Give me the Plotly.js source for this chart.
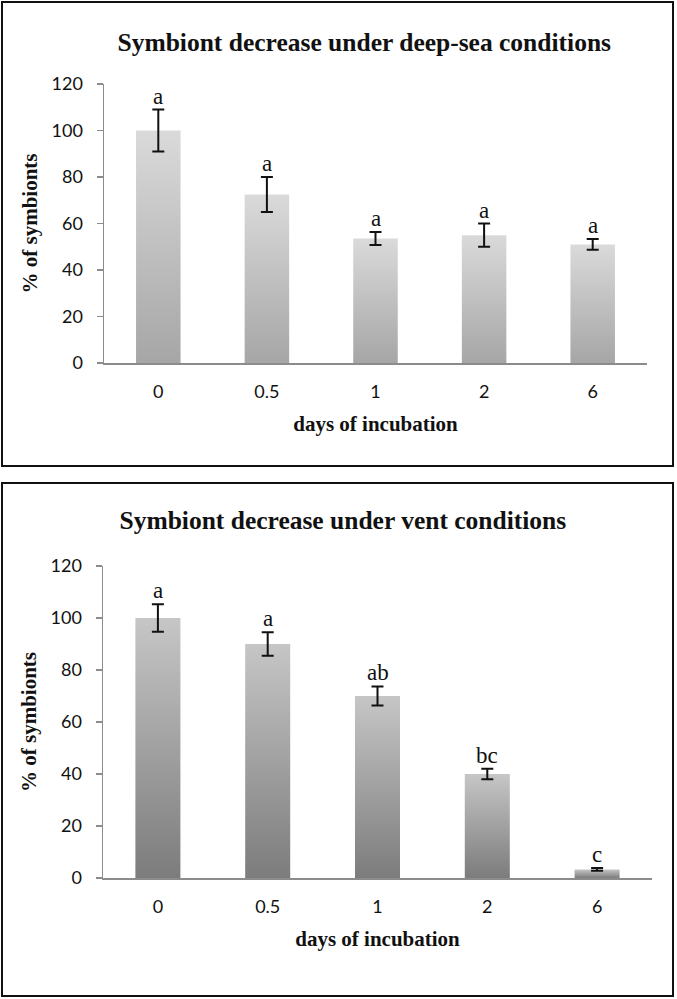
<!DOCTYPE html>
<html>
<head>
<meta charset="utf-8">
<script src="https://cdn.plot.ly/plotly-3.0.1.min.js"></script>
<style>
  html, body { margin: 0; padding: 0; background: #fff; }
  body { width: 677px; height: 999px; position: relative; overflow: hidden; }
  .panel { position: absolute; box-sizing: border-box; border: 2px solid #111; background: #fff; }
</style>
</head>
<body>
<div class="panel" style="left:1px;top:1px;width:673px;height:466px"><div id="c1"></div></div>
<div class="panel" style="left:1px;top:482px;width:673px;height:515px"><div id="c2"></div></div>
<script>
// ---- data ----
const categories = ['0', '0.5', '1', '2', '6'];
const deepSeaValues = [100, 72.5, 53.5, 55, 51];
const deepSeaErrors = [9, 7.5, 2.8, 5, 2.3];
const deepSeaLetters = ['a', 'a', 'a', 'a', 'a'];
const ventValues = [100, 90, 70, 40, 3.3];
const ventErrors = [5.3, 4.5, 3.7, 2, 0.5];
const ventLetters = ['a', 'a', 'ab', 'bc', 'c'];
const titleDeep = 'Symbiont decrease under deep-sea conditions';
const titleVent = 'Symbiont decrease under vent conditions';
const xTitle = 'days of incubation';
const yTitle = '% of symbionts';

const serif = 'Liberation Serif, Times New Roman, serif';
const sans = 'Lato, Carlito, sans-serif';

function makeChart(divId, values, errors, letters, title, W, H, margin, titleX, titleY, gradId, gTop, gBottom) {
  const trace = {
    type: 'bar',
    x: categories,
    y: values,
    width: 0.41,
    marker: { color: '#bdbdbd', line: { width: 0 } },
    error_y: { type: 'data', array: errors, visible: true, color: '#111', thickness: 2, width: 6 },
    hoverinfo: 'skip'
  };
  // category axis: annotation x given as the category index
  const annotations = categories.map((c, i) => ({
    x: i, y: values[i] + errors[i], xref: 'x', yref: 'y',
    text: letters[i], showarrow: false, yanchor: 'bottom', yshift: -1,
    font: { family: serif, size: 23, color: '#111' }
  }));
  const layout = {
    width: W, height: H,
    margin: margin,
    paper_bgcolor: '#fff', plot_bgcolor: '#fff',
    showlegend: false,
    title: {
      text: title, x: titleX, xanchor: 'center', xref: 'container',
      y: titleY, yanchor: 'middle', yref: 'container',
      font: { family: serif, size: 25.5, color: '#111', weight: 'bold' }
    },
    xaxis: {
      type: 'category',
      range: [-0.5, categories.length - 0.5],
      showgrid: false, zeroline: false,
      showline: true, linecolor: '#8c8c8c', linewidth: 1.5,
      ticks: '', ticklabelstandoff: 12,
      tickfont: { family: sans, size: 18, color: '#111' },
      title: { text: xTitle, standoff: 15, font: { family: serif, size: 21, color: '#111', weight: 'bold' } }
    },
    yaxis: {
      range: [0, 120], dtick: 20, tick0: 0,
      showgrid: false, zeroline: false,
      showline: true, linecolor: '#8c8c8c', linewidth: 1.5,
      ticks: 'outside', ticklen: 6, tickcolor: '#8c8c8c', tickwidth: 1.5,
      ticklabelstandoff: 10,
      tickfont: { family: sans, size: 18, color: '#111' },
      title: { text: yTitle, standoff: 8, font: { family: serif, size: 21, color: '#111', weight: 'bold' } }
    },
    annotations: annotations
  };
  return Plotly.newPlot(divId, [trace], layout, { staticPlot: true, displayModeBar: false }).then(gd => {
    const ns = 'http://www.w3.org/2000/svg';
    const svg = gd.querySelector('svg.main-svg');
    let defs = svg.querySelector('defs');
    if (!defs) { defs = document.createElementNS(ns, 'defs'); svg.insertBefore(defs, svg.firstChild); }
    const lg = document.createElementNS(ns, 'linearGradient');
    lg.setAttribute('id', gradId);
    lg.setAttribute('x1', '0'); lg.setAttribute('y1', '0');
    lg.setAttribute('x2', '0'); lg.setAttribute('y2', '1');
    [[0, gTop], [1, gBottom]].forEach(([o, c]) => {
      const s = document.createElementNS(ns, 'stop');
      s.setAttribute('offset', o); s.setAttribute('stop-color', c);
      lg.appendChild(s);
    });
    defs.appendChild(lg);
    gd.querySelectorAll('.trace.bars .point path').forEach(p => { p.style.fill = 'url(#' + gradId + ')'; });
  });
}

makeChart('c1', deepSeaValues, deepSeaErrors, deepSeaLetters, titleDeep, 669, 462,
  { l: 101, r: 25, t: 81, b: 102, pad: 0 }, 0.54, 1 - 39 / 462, 'gradDeep', '#dadada', '#a6a6a6');
makeChart('c2', ventValues, ventErrors, ventLetters, titleVent, 669, 511,
  { l: 100, r: 20, t: 82, b: 117, pad: 0 }, 0.508, 1 - 36 / 511, 'gradVent', '#c6c6c6', '#7c7c7c');
</script>
</body>
</html>
